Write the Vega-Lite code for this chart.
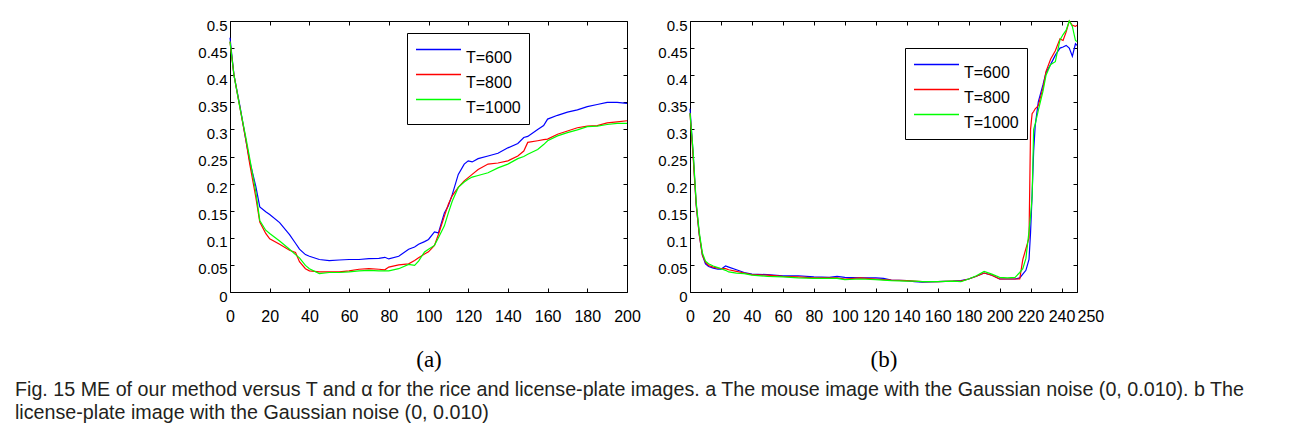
{
"$schema": "https://vega.github.io/schema/vega-lite/v6.json",
"padding": {"left": 15, "top": 17, "right": 5, "bottom": 5},
"config": {
  "font": "Liberation Sans",
  "view": {"stroke": "#000", "strokeWidth": 1},
  "axis": {"grid": false, "domain": false, "tickColor": "#000", "tickSize": -4, "labelFlush": false, "labelColor": "#000", "labelFont": "Liberation Sans", "labelFontSize": 15, "titleFont": "Liberation Serif", "titleFontSize": 23, "titleFontWeight": "normal", "titleColor": "#000"},
  "legend": {"title": null, "orient": "none", "symbolType": "M-1,0H5", "symbolSize": 225, "symbolStrokeWidth": 1.5, "labelOffset": 34, "labelFontSize": 16, "labelFont": "Liberation Sans", "labelColor": "#000", "labelBaseline": "top", "rowPadding": -2, "strokeColor": "#000", "fillColor": "#fff", "padding": 8}
},
"datasets": {
"a": [
{"T":"T=600","x":0,"y":0.469},{"T":"T=600","x":2,"y":0.40},{"T":"T=600","x":5,"y":0.343},{"T":"T=600","x":8,"y":0.28},{"T":"T=600","x":10,"y":0.24},{"T":"T=600","x":13,"y":0.195},{"T":"T=600","x":15,"y":0.157},{"T":"T=600","x":18,"y":0.148},{"T":"T=600","x":20,"y":0.143},{"T":"T=600","x":25,"y":0.128},{"T":"T=600","x":30,"y":0.106},{"T":"T=600","x":33,"y":0.090},{"T":"T=600","x":35,"y":0.079},{"T":"T=600","x":38,"y":0.069},{"T":"T=600","x":40,"y":0.066},{"T":"T=600","x":45,"y":0.060},{"T":"T=600","x":50,"y":0.058},{"T":"T=600","x":55,"y":0.059},{"T":"T=600","x":60,"y":0.060},{"T":"T=600","x":65,"y":0.060},{"T":"T=600","x":70,"y":0.0615},{"T":"T=600","x":75,"y":0.062},{"T":"T=600","x":78,"y":0.064},{"T":"T=600","x":80,"y":0.061},{"T":"T=600","x":85,"y":0.066},{"T":"T=600","x":90,"y":0.079},{"T":"T=600","x":93,"y":0.083},{"T":"T=600","x":95,"y":0.088},{"T":"T=600","x":98,"y":0.093},{"T":"T=600","x":100,"y":0.097},{"T":"T=600","x":103,"y":0.111},{"T":"T=600","x":105,"y":0.109},{"T":"T=600","x":108,"y":0.146},{"T":"T=600","x":110,"y":0.159},{"T":"T=600","x":112,"y":0.180},{"T":"T=600","x":115,"y":0.217},{"T":"T=600","x":118,"y":0.236},{"T":"T=600","x":120,"y":0.242},{"T":"T=600","x":122,"y":0.240},{"T":"T=600","x":125,"y":0.246},{"T":"T=600","x":130,"y":0.251},{"T":"T=600","x":135,"y":0.256},{"T":"T=600","x":140,"y":0.266},{"T":"T=600","x":145,"y":0.274},{"T":"T=600","x":148,"y":0.285},{"T":"T=600","x":150,"y":0.287},{"T":"T=600","x":155,"y":0.300},{"T":"T=600","x":158,"y":0.307},{"T":"T=600","x":160,"y":0.319},{"T":"T=600","x":165,"y":0.326},{"T":"T=600","x":170,"y":0.332},{"T":"T=600","x":175,"y":0.336},{"T":"T=600","x":180,"y":0.342},{"T":"T=600","x":185,"y":0.346},{"T":"T=600","x":190,"y":0.350},{"T":"T=600","x":195,"y":0.350},{"T":"T=600","x":200,"y":0.348},
{"T":"T=800","x":0,"y":0.462},{"T":"T=800","x":2,"y":0.40},{"T":"T=800","x":5,"y":0.34},{"T":"T=800","x":8,"y":0.28},{"T":"T=800","x":10,"y":0.235},{"T":"T=800","x":13,"y":0.175},{"T":"T=800","x":15,"y":0.129},{"T":"T=800","x":18,"y":0.108},{"T":"T=800","x":20,"y":0.098},{"T":"T=800","x":25,"y":0.088},{"T":"T=800","x":30,"y":0.077},{"T":"T=800","x":33,"y":0.073},{"T":"T=800","x":35,"y":0.056},{"T":"T=800","x":38,"y":0.043},{"T":"T=800","x":40,"y":0.039},{"T":"T=800","x":45,"y":0.037},{"T":"T=800","x":50,"y":0.037},{"T":"T=800","x":55,"y":0.037},{"T":"T=800","x":60,"y":0.039},{"T":"T=800","x":65,"y":0.042},{"T":"T=800","x":70,"y":0.043},{"T":"T=800","x":75,"y":0.042},{"T":"T=800","x":78,"y":0.041},{"T":"T=800","x":80,"y":0.046},{"T":"T=800","x":85,"y":0.050},{"T":"T=800","x":90,"y":0.052},{"T":"T=800","x":93,"y":0.058},{"T":"T=800","x":95,"y":0.063},{"T":"T=800","x":98,"y":0.070},{"T":"T=800","x":100,"y":0.074},{"T":"T=800","x":103,"y":0.086},{"T":"T=800","x":105,"y":0.106},{"T":"T=800","x":108,"y":0.140},{"T":"T=800","x":110,"y":0.162},{"T":"T=800","x":112,"y":0.178},{"T":"T=800","x":115,"y":0.193},{"T":"T=800","x":118,"y":0.205},{"T":"T=800","x":120,"y":0.211},{"T":"T=800","x":122,"y":0.217},{"T":"T=800","x":125,"y":0.226},{"T":"T=800","x":130,"y":0.236},{"T":"T=800","x":135,"y":0.238},{"T":"T=800","x":140,"y":0.242},{"T":"T=800","x":145,"y":0.251},{"T":"T=800","x":148,"y":0.260},{"T":"T=800","x":150,"y":0.276},{"T":"T=800","x":155,"y":0.279},{"T":"T=800","x":158,"y":0.281},{"T":"T=800","x":160,"y":0.282},{"T":"T=800","x":165,"y":0.291},{"T":"T=800","x":170,"y":0.297},{"T":"T=800","x":175,"y":0.303},{"T":"T=800","x":180,"y":0.306},{"T":"T=800","x":185,"y":0.307},{"T":"T=800","x":190,"y":0.312},{"T":"T=800","x":195,"y":0.314},{"T":"T=800","x":200,"y":0.316},
{"T":"T=1000","x":0,"y":0.462},{"T":"T=1000","x":2,"y":0.40},{"T":"T=1000","x":5,"y":0.34},{"T":"T=1000","x":8,"y":0.285},{"T":"T=1000","x":10,"y":0.245},{"T":"T=1000","x":13,"y":0.185},{"T":"T=1000","x":15,"y":0.132},{"T":"T=1000","x":18,"y":0.114},{"T":"T=1000","x":20,"y":0.108},{"T":"T=1000","x":25,"y":0.094},{"T":"T=1000","x":30,"y":0.079},{"T":"T=1000","x":33,"y":0.069},{"T":"T=1000","x":35,"y":0.063},{"T":"T=1000","x":38,"y":0.049},{"T":"T=1000","x":40,"y":0.043},{"T":"T=1000","x":45,"y":0.034},{"T":"T=1000","x":50,"y":0.036},{"T":"T=1000","x":55,"y":0.036},{"T":"T=1000","x":60,"y":0.037},{"T":"T=1000","x":65,"y":0.039},{"T":"T=1000","x":70,"y":0.040},{"T":"T=1000","x":75,"y":0.039},{"T":"T=1000","x":78,"y":0.039},{"T":"T=1000","x":80,"y":0.039},{"T":"T=1000","x":85,"y":0.043},{"T":"T=1000","x":90,"y":0.051},{"T":"T=1000","x":93,"y":0.049},{"T":"T=1000","x":95,"y":0.057},{"T":"T=1000","x":98,"y":0.074},{"T":"T=1000","x":100,"y":0.079},{"T":"T=1000","x":103,"y":0.086},{"T":"T=1000","x":105,"y":0.100},{"T":"T=1000","x":108,"y":0.122},{"T":"T=1000","x":110,"y":0.146},{"T":"T=1000","x":112,"y":0.168},{"T":"T=1000","x":115,"y":0.193},{"T":"T=1000","x":118,"y":0.203},{"T":"T=1000","x":120,"y":0.208},{"T":"T=1000","x":122,"y":0.212},{"T":"T=1000","x":125,"y":0.215},{"T":"T=1000","x":130,"y":0.220},{"T":"T=1000","x":135,"y":0.229},{"T":"T=1000","x":140,"y":0.236},{"T":"T=1000","x":145,"y":0.246},{"T":"T=1000","x":148,"y":0.250},{"T":"T=1000","x":150,"y":0.254},{"T":"T=1000","x":155,"y":0.263},{"T":"T=1000","x":158,"y":0.272},{"T":"T=1000","x":160,"y":0.279},{"T":"T=1000","x":165,"y":0.288},{"T":"T=1000","x":170,"y":0.294},{"T":"T=1000","x":175,"y":0.299},{"T":"T=1000","x":180,"y":0.305},{"T":"T=1000","x":185,"y":0.306},{"T":"T=1000","x":190,"y":0.309},{"T":"T=1000","x":195,"y":0.311},{"T":"T=1000","x":200,"y":0.311}
],
"b": [
{"T":"T=600","x":0,"y":0.338},{"T":"T=600","x":2,"y":0.256},{"T":"T=600","x":4,"y":0.162},{"T":"T=600","x":6,"y":0.106},{"T":"T=600","x":8,"y":0.068},{"T":"T=600","x":10,"y":0.052},{"T":"T=600","x":12,"y":0.047},{"T":"T=600","x":15,"y":0.044},{"T":"T=600","x":18,"y":0.042},{"T":"T=600","x":20,"y":0.042},{"T":"T=600","x":23,"y":0.048},{"T":"T=600","x":25,"y":0.046},{"T":"T=600","x":30,"y":0.041},{"T":"T=600","x":35,"y":0.036},{"T":"T=600","x":40,"y":0.033},{"T":"T=600","x":50,"y":0.032},{"T":"T=600","x":60,"y":0.030},{"T":"T=600","x":70,"y":0.030},{"T":"T=600","x":80,"y":0.028},{"T":"T=600","x":90,"y":0.027},{"T":"T=600","x":95,"y":0.029},{"T":"T=600","x":100,"y":0.027},{"T":"T=600","x":110,"y":0.026},{"T":"T=600","x":120,"y":0.026},{"T":"T=600","x":125,"y":0.025},{"T":"T=600","x":130,"y":0.022},{"T":"T=600","x":140,"y":0.021},{"T":"T=600","x":145,"y":0.019},{"T":"T=600","x":150,"y":0.018},{"T":"T=600","x":160,"y":0.019},{"T":"T=600","x":170,"y":0.020},{"T":"T=600","x":175,"y":0.021},{"T":"T=600","x":180,"y":0.024},{"T":"T=600","x":185,"y":0.029},{"T":"T=600","x":190,"y":0.035},{"T":"T=600","x":195,"y":0.031},{"T":"T=600","x":200,"y":0.024},{"T":"T=600","x":205,"y":0.024},{"T":"T=600","x":210,"y":0.024},{"T":"T=600","x":213,"y":0.026},{"T":"T=600","x":215,"y":0.033},{"T":"T=600","x":217,"y":0.040},{"T":"T=600","x":219,"y":0.060},{"T":"T=600","x":220,"y":0.110},{"T":"T=600","x":221,"y":0.180},{"T":"T=600","x":222,"y":0.260},{"T":"T=600","x":223,"y":0.307},{"T":"T=600","x":225,"y":0.351},{"T":"T=600","x":228,"y":0.382},{"T":"T=600","x":230,"y":0.405},{"T":"T=600","x":233,"y":0.42},{"T":"T=600","x":236,"y":0.437},{"T":"T=600","x":239,"y":0.45},{"T":"T=600","x":241,"y":0.452},{"T":"T=600","x":243,"y":0.455},{"T":"T=600","x":245,"y":0.45},{"T":"T=600","x":247,"y":0.435},{"T":"T=600","x":249,"y":0.458},{"T":"T=600","x":250,"y":0.455},
{"T":"T=800","x":0,"y":0.33},{"T":"T=800","x":2,"y":0.25},{"T":"T=800","x":4,"y":0.16},{"T":"T=800","x":6,"y":0.105},{"T":"T=800","x":8,"y":0.068},{"T":"T=800","x":10,"y":0.055},{"T":"T=800","x":12,"y":0.049},{"T":"T=800","x":15,"y":0.046},{"T":"T=800","x":18,"y":0.044},{"T":"T=800","x":20,"y":0.043},{"T":"T=800","x":23,"y":0.043},{"T":"T=800","x":25,"y":0.041},{"T":"T=800","x":30,"y":0.038},{"T":"T=800","x":35,"y":0.035},{"T":"T=800","x":40,"y":0.032},{"T":"T=800","x":50,"y":0.031},{"T":"T=800","x":60,"y":0.029},{"T":"T=800","x":70,"y":0.028},{"T":"T=800","x":80,"y":0.026},{"T":"T=800","x":90,"y":0.026},{"T":"T=800","x":95,"y":0.026},{"T":"T=800","x":100,"y":0.024},{"T":"T=800","x":110,"y":0.026},{"T":"T=800","x":120,"y":0.024},{"T":"T=800","x":125,"y":0.023},{"T":"T=800","x":130,"y":0.022},{"T":"T=800","x":140,"y":0.021},{"T":"T=800","x":145,"y":0.020},{"T":"T=800","x":150,"y":0.019},{"T":"T=800","x":160,"y":0.019},{"T":"T=800","x":170,"y":0.020},{"T":"T=800","x":175,"y":0.020},{"T":"T=800","x":180,"y":0.024},{"T":"T=800","x":185,"y":0.029},{"T":"T=800","x":190,"y":0.035},{"T":"T=800","x":195,"y":0.031},{"T":"T=800","x":200,"y":0.024},{"T":"T=800","x":205,"y":0.024},{"T":"T=800","x":210,"y":0.024},{"T":"T=800","x":213,"y":0.024},{"T":"T=800","x":215,"y":0.060},{"T":"T=800","x":217,"y":0.080},{"T":"T=800","x":219,"y":0.100},{"T":"T=800","x":220,"y":0.300},{"T":"T=800","x":221,"y":0.329},{"T":"T=800","x":222,"y":0.333},{"T":"T=800","x":223,"y":0.338},{"T":"T=800","x":225,"y":0.344},{"T":"T=800","x":228,"y":0.376},{"T":"T=800","x":230,"y":0.407},{"T":"T=800","x":233,"y":0.43},{"T":"T=800","x":236,"y":0.445},{"T":"T=800","x":239,"y":0.467},{"T":"T=800","x":241,"y":0.464},{"T":"T=800","x":243,"y":0.48},{"T":"T=800","x":245,"y":0.50},{"T":"T=800","x":247,"y":0.492},{"T":"T=800","x":249,"y":0.49},{"T":"T=800","x":250,"y":0.492},
{"T":"T=1000","x":0,"y":0.33},{"T":"T=1000","x":2,"y":0.26},{"T":"T=1000","x":4,"y":0.165},{"T":"T=1000","x":6,"y":0.11},{"T":"T=1000","x":8,"y":0.072},{"T":"T=1000","x":10,"y":0.057},{"T":"T=1000","x":12,"y":0.052},{"T":"T=1000","x":15,"y":0.048},{"T":"T=1000","x":18,"y":0.045},{"T":"T=1000","x":20,"y":0.043},{"T":"T=1000","x":23,"y":0.040},{"T":"T=1000","x":25,"y":0.037},{"T":"T=1000","x":30,"y":0.035},{"T":"T=1000","x":35,"y":0.034},{"T":"T=1000","x":40,"y":0.031},{"T":"T=1000","x":50,"y":0.029},{"T":"T=1000","x":60,"y":0.028},{"T":"T=1000","x":70,"y":0.026},{"T":"T=1000","x":80,"y":0.025},{"T":"T=1000","x":90,"y":0.025},{"T":"T=1000","x":95,"y":0.025},{"T":"T=1000","x":100,"y":0.023},{"T":"T=1000","x":110,"y":0.024},{"T":"T=1000","x":120,"y":0.023},{"T":"T=1000","x":125,"y":0.022},{"T":"T=1000","x":130,"y":0.021},{"T":"T=1000","x":140,"y":0.020},{"T":"T=1000","x":145,"y":0.020},{"T":"T=1000","x":150,"y":0.019},{"T":"T=1000","x":160,"y":0.019},{"T":"T=1000","x":170,"y":0.020},{"T":"T=1000","x":175,"y":0.019},{"T":"T=1000","x":180,"y":0.024},{"T":"T=1000","x":185,"y":0.030},{"T":"T=1000","x":190,"y":0.038},{"T":"T=1000","x":195,"y":0.033},{"T":"T=1000","x":200,"y":0.027},{"T":"T=1000","x":205,"y":0.026},{"T":"T=1000","x":210,"y":0.027},{"T":"T=1000","x":213,"y":0.036},{"T":"T=1000","x":215,"y":0.043},{"T":"T=1000","x":217,"y":0.062},{"T":"T=1000","x":219,"y":0.112},{"T":"T=1000","x":220,"y":0.140},{"T":"T=1000","x":221,"y":0.175},{"T":"T=1000","x":222,"y":0.300},{"T":"T=1000","x":223,"y":0.310},{"T":"T=1000","x":225,"y":0.335},{"T":"T=1000","x":228,"y":0.370},{"T":"T=1000","x":230,"y":0.400},{"T":"T=1000","x":233,"y":0.42},{"T":"T=1000","x":236,"y":0.425},{"T":"T=1000","x":239,"y":0.465},{"T":"T=1000","x":241,"y":0.475},{"T":"T=1000","x":243,"y":0.483},{"T":"T=1000","x":245,"y":0.50},{"T":"T=1000","x":247,"y":0.49},{"T":"T=1000","x":249,"y":0.464},{"T":"T=1000","x":250,"y":0.462}
]
},
"title": {"text": ["Fig. 15 ME of our method versus T and α for the rice and license-plate images. a The mouse image with the Gaussian noise (0, 0.010). b The", "license-plate image with the Gaussian noise (0, 0.010)"], "orient": "bottom", "anchor": "start", "frame": "group", "dx": -215, "offset": 8, "font": "Liberation Sans", "fontSize": 19.7, "fontWeight": "normal", "lineHeight": 23, "color": "#231f20"},
"resolve": {"scale": {"color": "independent"}, "legend": {"color": "independent"}},
"spacing": 16,
"hconcat": [
{
  "width": 397, "height": 271,
  "layer": [
    {"data": {"name": "a"}, "mark": {"type": "line", "strokeWidth": 1.2},
     "encoding": {
       "x": {"field": "x", "type": "quantitative", "scale": {"domain": [0, 200], "nice": false}, "axis": {"values": [0,20,40,60,80,100,120,140,160,180,200], "labelOverlap": false, "title": "(a)", "labelFontSize": 16, "labelPadding": 20, "titlePadding": 24}},
       "y": {"field": "y", "type": "quantitative", "scale": {"domain": [0, 0.5], "nice": false}, "axis": {"values": [0,0.05,0.1,0.15,0.2,0.25,0.3,0.35,0.4,0.45,0.5], "format": "~g", "labelOverlap": false, "title": null, "labelOffset": 4, "labelPadding": 7}},
       "color": {"field": "T", "type": "nominal", "scale": {"domain": ["T=600", "T=800", "T=1000"], "range": ["#0000ff", "#ff0000", "#00ff00"]}, "legend": {"legendX": 177, "legendY": 12}}
     }},
    {"mark": {"type": "rule", "color": "#d070d0", "strokeWidth": 1},
     "encoding": {
       "x": {"datum": 0, "type": "quantitative", "axis": {"orient": "top", "labels": false, "title": null, "values": [0,20,40,60,80,100,120,140,160,180,200]}},
       "x2": {"datum": 200},
       "y": {"datum": 0.05, "type": "quantitative", "axis": {"orient": "right", "labels": false, "title": null, "values": [0,0.05,0.1,0.15,0.2,0.25,0.3,0.35,0.4,0.45,0.5]}}
     }}
  ],
  "resolve": {"axis": {"x": "independent", "y": "independent"}}
},
{
  "width": 387, "height": 271,
  "layer": [
    {"data": {"name": "b"}, "mark": {"type": "line", "strokeWidth": 1.2},
     "encoding": {
       "x": {"field": "x", "type": "quantitative", "scale": {"domain": [0, 250], "nice": false}, "axis": {"values": [0,20,40,60,80,100,120,140,160,180,200,220,240,250], "labelOverlap": false, "labelAlign": {"expr": "datum.value == 250 ? 'left' : 'center'"}, "title": "(b)", "labelFontSize": 16, "labelPadding": 20, "titlePadding": 24}},
       "y": {"field": "y", "type": "quantitative", "scale": {"domain": [0, 0.5], "nice": false}, "axis": {"values": [0,0.05,0.1,0.15,0.2,0.25,0.3,0.35,0.4,0.45,0.5], "format": "~g", "labelOverlap": false, "title": null, "labelOffset": 4, "labelPadding": 7}},
       "color": {"field": "T", "type": "nominal", "scale": {"domain": ["T=600", "T=800", "T=1000"], "range": ["#0000ff", "#ff0000", "#00ff00"]}, "legend": {"legendX": 215, "legendY": 27}}
     }},
    {"mark": {"type": "rule", "color": "#d070d0", "strokeWidth": 1},
     "encoding": {
       "x": {"datum": 0, "type": "quantitative", "axis": {"orient": "top", "labels": false, "title": null, "values": [0,20,40,60,80,100,120,140,160,180,200,220,240]}},
       "x2": {"datum": 250},
       "y": {"datum": 0.05, "type": "quantitative", "axis": {"orient": "right", "labels": false, "title": null, "values": [0,0.05,0.1,0.15,0.2,0.25,0.3,0.35,0.4,0.45,0.5]}}
     }}
  ],
  "resolve": {"axis": {"x": "independent", "y": "independent"}}
}
]
}
